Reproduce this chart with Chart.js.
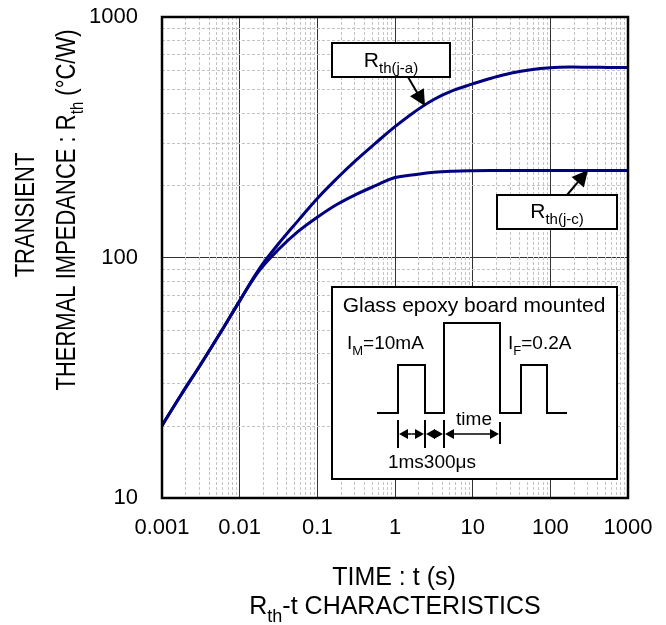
<!DOCTYPE html>
<html>
<head>
<meta charset="utf-8">
<script src="https://cdn.jsdelivr.net/npm/chart.js@4.4.1/dist/chart.umd.min.js"></script>
<style>
  body { margin: 0; background: #fff; }
  #wrap { width: 666px; height: 625px; }
</style>
</head>
<body>
<div id="wrap"><canvas id="chart"></canvas></div>
<script>
// values (quarter-decade steps)
const times = [0.001, 0.00178, 0.00316, 0.00562, 0.01, 0.0178, 0.0316, 0.0562, 0.1, 0.178, 0.316, 0.562,
               1, 1.78, 3.16, 5.62, 10, 17.8, 31.6, 56.2, 100, 178, 316, 562, 1000];
const rthJA = [20, 27, 36, 48.5, 66, 89.5, 114, 142, 176, 213, 254, 299,
               350, 403, 454, 495, 527, 558, 585, 604, 615, 619, 618, 617, 617];
const rthJC = [20, 27, 36, 48.5, 66, 88, 108, 128, 147, 166, 183, 199,
               215, 221, 226, 228.5, 229.6, 230, 230, 230, 230, 230, 230, 230, 230];
const xTicks = [0.001, 0.01, 0.1, 1, 10, 100, 1000];
const yTicks = [10, 100, 1000];
const xLabels = ['0.001', '0.01', '0.1', '1', '10', '100', '1000'];
const yLabels = ['10', '100', '1000'];

const FONT = '"Liberation Sans", Arial, sans-serif';
const NAVY = '#000080';

function isDecade(v) {
  const l = Math.log10(v);
  return Math.abs(l - Math.round(l)) < 1e-6;
}
function findLabel(v, list, labels) {
  for (let i = 0; i < list.length; i++) {
    if (Math.abs(Math.log10(v) - Math.log10(list[i])) < 1e-6) return labels[i];
  }
  return '';
}

// text with subscripts, parts = [[text, isSub], ...], y is baseline
function rich(ctx, parts, x, y, size, align) {
  const sub = Math.round(size * 0.7);
  let w = 0;
  parts.forEach(p => {
    ctx.font = (p[1] ? sub : size) + 'px ' + FONT;
    w += ctx.measureText(p[0]).width;
  });
  let cx = align === 'center' ? x - w / 2 : (align === 'right' ? x - w : x);
  ctx.textAlign = 'left';
  ctx.textBaseline = 'alphabetic';
  parts.forEach(p => {
    ctx.font = (p[1] ? sub : size) + 'px ' + FONT;
    ctx.fillText(p[0], cx, p[1] ? y + size * 0.3 : y);
    cx += ctx.measureText(p[0]).width;
  });
}

function arrow(ctx, x1, y1, x2, y2, len, half) {
  const a = Math.atan2(y2 - y1, x2 - x1);
  ctx.beginPath();
  ctx.moveTo(x1, y1);
  ctx.lineTo(x2 - Math.cos(a) * len * 0.8, y2 - Math.sin(a) * len * 0.8);
  ctx.stroke();
  ctx.beginPath();
  ctx.moveTo(x2, y2);
  ctx.lineTo(x2 - Math.cos(a) * len - Math.sin(a) * half, y2 - Math.sin(a) * len + Math.cos(a) * half);
  ctx.lineTo(x2 - Math.cos(a) * len + Math.sin(a) * half, y2 - Math.sin(a) * len - Math.cos(a) * half);
  ctx.closePath();
  ctx.fill();
}

const minorGrid = {
  id: 'minorGrid',
  beforeDatasetsDraw(chart) {
    const ctx = chart.ctx, a = chart.chartArea;
    const xs = chart.scales.x, ys = chart.scales.y;
    ctx.save();
    ctx.strokeStyle = '#c4c4c4';
    ctx.lineWidth = 1;
    ctx.setLineDash([3, 2]);
    for (let e = -3; e < 3; e++) {
      for (let m = 2; m <= 9; m++) {
        const px = Math.round(xs.getPixelForValue(m * Math.pow(10, e))) + 0.5;
        ctx.beginPath(); ctx.moveTo(px, a.top); ctx.lineTo(px, a.bottom); ctx.stroke();
      }
    }
    for (let e = 1; e < 3; e++) {
      for (let m = 2; m <= 9; m++) {
        const py = Math.round(ys.getPixelForValue(m * Math.pow(10, e))) + 0.5;
        ctx.beginPath(); ctx.moveTo(a.left, py); ctx.lineTo(a.right, py); ctx.stroke();
      }
    }
    ctx.restore();
  }
};

const decorations = {
  id: 'decorations',
  afterDraw(chart) {
    const ctx = chart.ctx, a = chart.chartArea;
    ctx.save();
    ctx.fillStyle = '#000';
    ctx.strokeStyle = '#000';

    // frame
    ctx.lineWidth = 2.5;
    ctx.strokeRect(a.left, a.top, a.right - a.left, a.bottom - a.top);

    // curve labels
    ctx.lineWidth = 2;
    ctx.fillStyle = '#fff';
    ctx.fillRect(332, 43, 118, 34);
    ctx.strokeRect(332, 43, 118, 34);
    ctx.fillRect(497, 195, 120, 34);
    ctx.strokeRect(497, 195, 120, 34);
    ctx.fillStyle = '#000';
    rich(ctx, [['R', false], ['th(j-a)', true]], 391, 67, 21, 'center');
    rich(ctx, [['R', false], ['th(j-c)', true]], 557, 218, 21, 'center');
    arrow(ctx, 408, 77, 425, 106, 16, 8);
    arrow(ctx, 567, 195, 588, 170, 16, 8);

    // inset
    ctx.fillStyle = '#fff';
    ctx.fillRect(332, 287, 285, 192);
    ctx.strokeRect(332, 287, 285, 192);
    ctx.fillStyle = '#000';
    ctx.font = '21px ' + FONT;
    ctx.textAlign = 'center';
    ctx.textBaseline = 'alphabetic';
    ctx.fillText('Glass epoxy board mounted', 474, 312);
    rich(ctx, [['I', false], ['M', true], ['=10mA', false]], 347, 349, 19, 'left');
    rich(ctx, [['I', false], ['F', true], ['=0.2A', false]], 508, 349, 19, 'left');

    const base = 413, low = 365, high = 323;
    ctx.lineWidth = 2;
    ctx.beginPath();
    ctx.moveTo(377, base); ctx.lineTo(398, base); ctx.lineTo(398, low); ctx.lineTo(425, low);
    ctx.lineTo(425, base); ctx.lineTo(444, base); ctx.lineTo(444, high); ctx.lineTo(500, high);
    ctx.lineTo(500, base); ctx.lineTo(521, base); ctx.lineTo(521, low); ctx.lineTo(547, low);
    ctx.lineTo(547, base); ctx.lineTo(567, base);
    ctx.stroke();

    // dimension lines
    [[398, 420, 448], [425, 420, 448], [444, 420, 448], [500, 422, 444]].forEach(t => {
      ctx.beginPath(); ctx.moveTo(t[0], t[1]); ctx.lineTo(t[0], t[2]); ctx.stroke();
    });
    const dy = 434;
    ctx.lineWidth = 1.5;
    [[398, 425], [425, 444], [444, 500]].forEach(s => {
      const mid = (s[0] + s[1]) / 2;
      arrow(ctx, mid, dy, s[0] + 1, dy, 9, 5);
      arrow(ctx, mid, dy, s[1] - 1, dy, 9, 5);
    });
    ctx.font = '19px ' + FONT;
    ctx.textAlign = 'center';
    ctx.fillText('time', 474, 425);
    ctx.fillText('1ms300\u03bcs', 432, 468);

    // axis titles
    ctx.font = '25px ' + FONT;
    ctx.fillText('TIME : t (s)', 394, 585);
    rich(ctx, [['R', false], ['th', true], ['-t CHARACTERISTICS', false]], 395, 614, 25, 'center');

    ctx.save();
    ctx.translate(34, 215);
    ctx.rotate(-Math.PI / 2);
    ctx.scale(1, 1.25);
    ctx.font = '22px ' + FONT;
    ctx.textAlign = 'center';
    ctx.fillText('TRANSIENT', 0, 0);
    ctx.restore();

    ctx.save();
    ctx.translate(75, 210);
    ctx.rotate(-Math.PI / 2);
    ctx.scale(1, 1.25);
    rich(ctx, [['THERMAL IMPEDANCE : R', false], ['th', true], [' (\u00b0C/W)', false]], 0, 0, 22, 'center');
    ctx.restore();

    ctx.restore();
  }
};

new Chart(document.getElementById('chart'), {
  type: 'line',
  data: {
    datasets: [
      {
        label: 'Rth(j-a)',
        data: times.map((t, i) => ({ x: t, y: rthJA[i] })),
        borderColor: NAVY,
        borderWidth: 3,
        pointRadius: 0,
        tension: 0.4,
        fill: false
      },
      {
        label: 'Rth(j-c)',
        data: times.map((t, i) => ({ x: t, y: rthJC[i] })),
        borderColor: NAVY,
        borderWidth: 3,
        pointRadius: 0,
        tension: 0.4,
        fill: false
      }
    ]
  },
  options: {
    responsive: true,
    maintainAspectRatio: false,
    animation: false,
    layout: { padding: { left: 0, right: 38, top: 17, bottom: 0 } },
    plugins: { legend: { display: false }, tooltip: { enabled: false } },
    scales: {
      x: {
        type: 'logarithmic',
        min: xTicks[0],
        max: xTicks[xTicks.length - 1],
        afterFit(scale) { scale.height = 127; scale.paddingLeft = 0; scale.paddingRight = 0; },
        border: { display: false },
        grid: {
          drawTicks: false,
          color: ctx => (ctx.tick && isDecade(ctx.tick.value)) ? '#333' : 'rgba(0,0,0,0)',
          lineWidth: 1
        },
        ticks: {
          autoSkip: false,
          maxRotation: 0,
          padding: 17,
          color: '#000',
          font: { family: FONT, size: 22 },
          callback: v => findLabel(v, xTicks, xLabels)
        }
      },
      y: {
        type: 'logarithmic',
        min: yTicks[0],
        max: yTicks[yTicks.length - 1],
        afterFit(scale) { scale.width = 162; scale.paddingTop = 0; scale.paddingBottom = 0; },
        border: { display: false },
        grid: {
          drawTicks: false,
          color: ctx => (ctx.tick && isDecade(ctx.tick.value)) ? '#333' : 'rgba(0,0,0,0)',
          lineWidth: 1
        },
        ticks: {
          autoSkip: false,
          padding: 24,
          color: '#000',
          font: { family: FONT, size: 22 },
          callback: v => findLabel(v, yTicks, yLabels)
        }
      }
    }
  },
  plugins: [minorGrid, decorations]
});
</script>
</body>
</html>
